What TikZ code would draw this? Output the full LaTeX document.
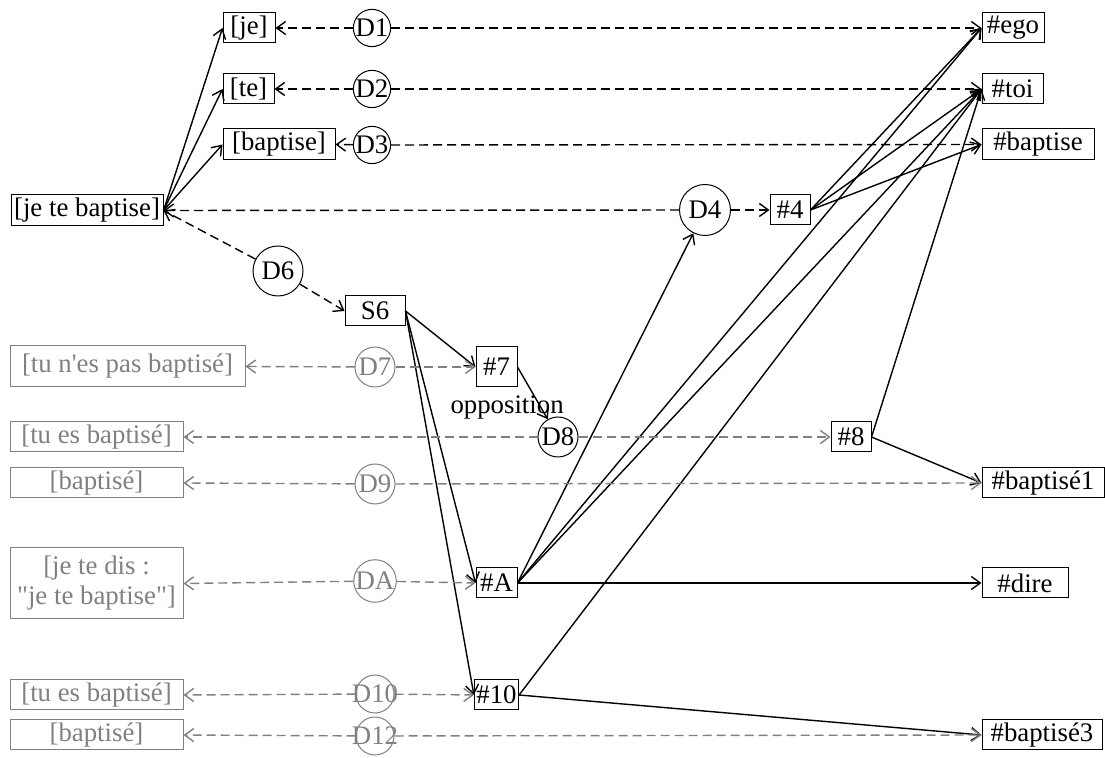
\documentclass[tikz,border=0pt]{standalone}
\usepackage{fontspec}
\setmainfont{Liberation Serif}[Ligatures=TeXOff]
\usetikzlibrary{arrows.meta}
\definecolor{faded}{RGB}{128,128,128}

\begin{document}
\begin{tikzpicture}[x=0.5pt, y=-0.5pt, font=\fontsize{13.4}{15}\selectfont,
  >={Straight Barb[length=4.5pt,width=6.5pt]}, line width=0.7pt,
  box/.style={draw, rectangle, line width=0.5pt, inner xsep=1pt, inner ysep=0pt, minimum height=15pt},
  gbox/.style={box, draw=faded, text=faded},
  dnode/.style={draw, circle, line width=0.5pt, inner sep=0pt, minimum size=#1},
  gdnode/.style={dnode=#1, draw=faded, text=faded},
  link/.style={->},
  dlink/.style={->, dash pattern=on 4.5pt off 2.5pt},
  glink/.style={dlink, draw=faded}]
\useasboundingbox (0,0) rectangle (1105,758);

% Utterance and its segments
\node[box, minimum width=76pt, minimum height=15.5pt] (jtb) at (87,210.5) {[je te baptise]};
\node[box, minimum width=26pt] (je) at (249,28) {[je]};
\node[box, minimum width=25.5pt] (te) at (248.5,89) {[te]};
\node[box, minimum width=56pt, minimum height=15.5pt] (bap) at (279,144.5) {[baptise]};

% Referents
\node[box, minimum width=31pt] (ego) at (1013,28) {\#ego};
\node[box, minimum width=30.5pt] (toi) at (1012.5,89) {\#toi};
\node[box, minimum width=56pt, minimum height=15.5pt] (hbap) at (1038,144.5) {\#baptise};
\node[box, minimum width=20pt] (h4) at (790,210) {\#4};
\node[box, minimum width=30pt] (s6) at (375,311) {S6};
\node[box, minimum width=20.5pt, minimum height=20pt] (h7) at (496.5,367) {\#7};
\node[box, minimum width=20pt] (h8) at (851,437) {\#8};
\node[box, minimum width=61pt] (hb1) at (1043,483) {\#baptisé1};
\node[box, minimum width=20.5pt] (hA) at (496.5,583) {\#A};
\node[box, minimum width=43pt] (dire) at (1025,583) {\#dire};
\node[box, minimum width=20.5pt] (h10) at (496.5,695) {\#10};
\node[box, minimum width=60pt] (hb3) at (1042,735) {\#baptisé3};

% Implied utterances
\node[gbox, minimum width=117.5pt, minimum height=20.5pt] (tnp) at (127.5,366.5) {[tu n'es pas baptisé]};
\node[gbox, minimum width=86.5pt] (teb1) at (96.5,437) {[tu es baptisé]};
\node[gbox, minimum width=86.5pt] (bpt1) at (96.5,483) {[baptisé]};
\node[gbox, minimum width=86.5pt, minimum height=35.5pt, align=center] (jtd) at (96.5,583.5) {[je te dis :\\"je te baptise"]};
\node[gbox, minimum width=86.5pt] (teb2) at (96.5,695) {[tu es baptisé]};
\node[gbox, minimum width=86.5pt] (bpt2) at (96.5,735) {[baptisé]};

% Discourse points
\node[dnode=17pt] (d1) at (372,28) {D1};
\node[dnode=17pt] (d2) at (372,89) {D2};
\node[dnode=17pt] (d3) at (372,145) {D3};
\node[dnode=25.5pt] (d4) at (705,210) {D4};
\node[dnode=25pt] (d6) at (278,271) {D6};
\node[gdnode=20pt] (d7) at (375,367) {D7};
\node[dnode=20pt] (d8) at (558,437) {D8};
\node[gdnode=20pt] (d9) at (375,484) {D9};
\node[gdnode=21pt] (dA) at (375,581) {DA};
\node[gdnode=19pt] (d10) at (375,694) {\makebox[0pt]{D10}};
\node[gdnode=19pt] (d12) at (375,736) {\makebox[0pt]{D12}};

% Segmentation
\foreach \t in {je,te,bap}
  \draw[link] (jtb.east) -- (\t.west);
\foreach \t in {h7,hA,h10}
  \draw[link] (s6.east) -- (\t.west);
\draw[link] (h7.east) -- node[pos=0.78, xshift=-17pt, inner sep=0pt] (opp) {opposition} (d8);
\draw[link] (hA.east) -- (d4);

% Links to referents
\foreach \src/\tgt in {h4/ego, h4/toi, h4/hbap, hA/ego, hA/toi, hA/dire, h10/toi, h10/hb3, h8/toi, h8/hb1}
  \draw[link] (\src.east) -- (\tgt.west);

% Dashed discourse links
\foreach \disc/\lft/\rgt in {d1/je/ego, d2/te/toi, d3/bap/hbap, d4/jtb/h4} {
  \draw[dlink] (\disc) -- (\lft.east);
  \draw[dlink] (\disc) -- (\rgt.west);
}
\draw[dlink] (d6) -- (jtb.east);
\draw[dlink] (d6) -- (s6.west);

% Faded discourse links
\foreach \disc/\lft/\rgt in {d7/tnp/h7, d8/teb1/h8, d9/bpt1/hb1, dA/jtd/hA, d10/teb2/h10, d12/bpt2/hb3} {
  \draw[glink] (\disc) -- (\lft.east);
  \draw[glink] (\disc) -- (\rgt.west);
}
\end{tikzpicture}
\end{document}
